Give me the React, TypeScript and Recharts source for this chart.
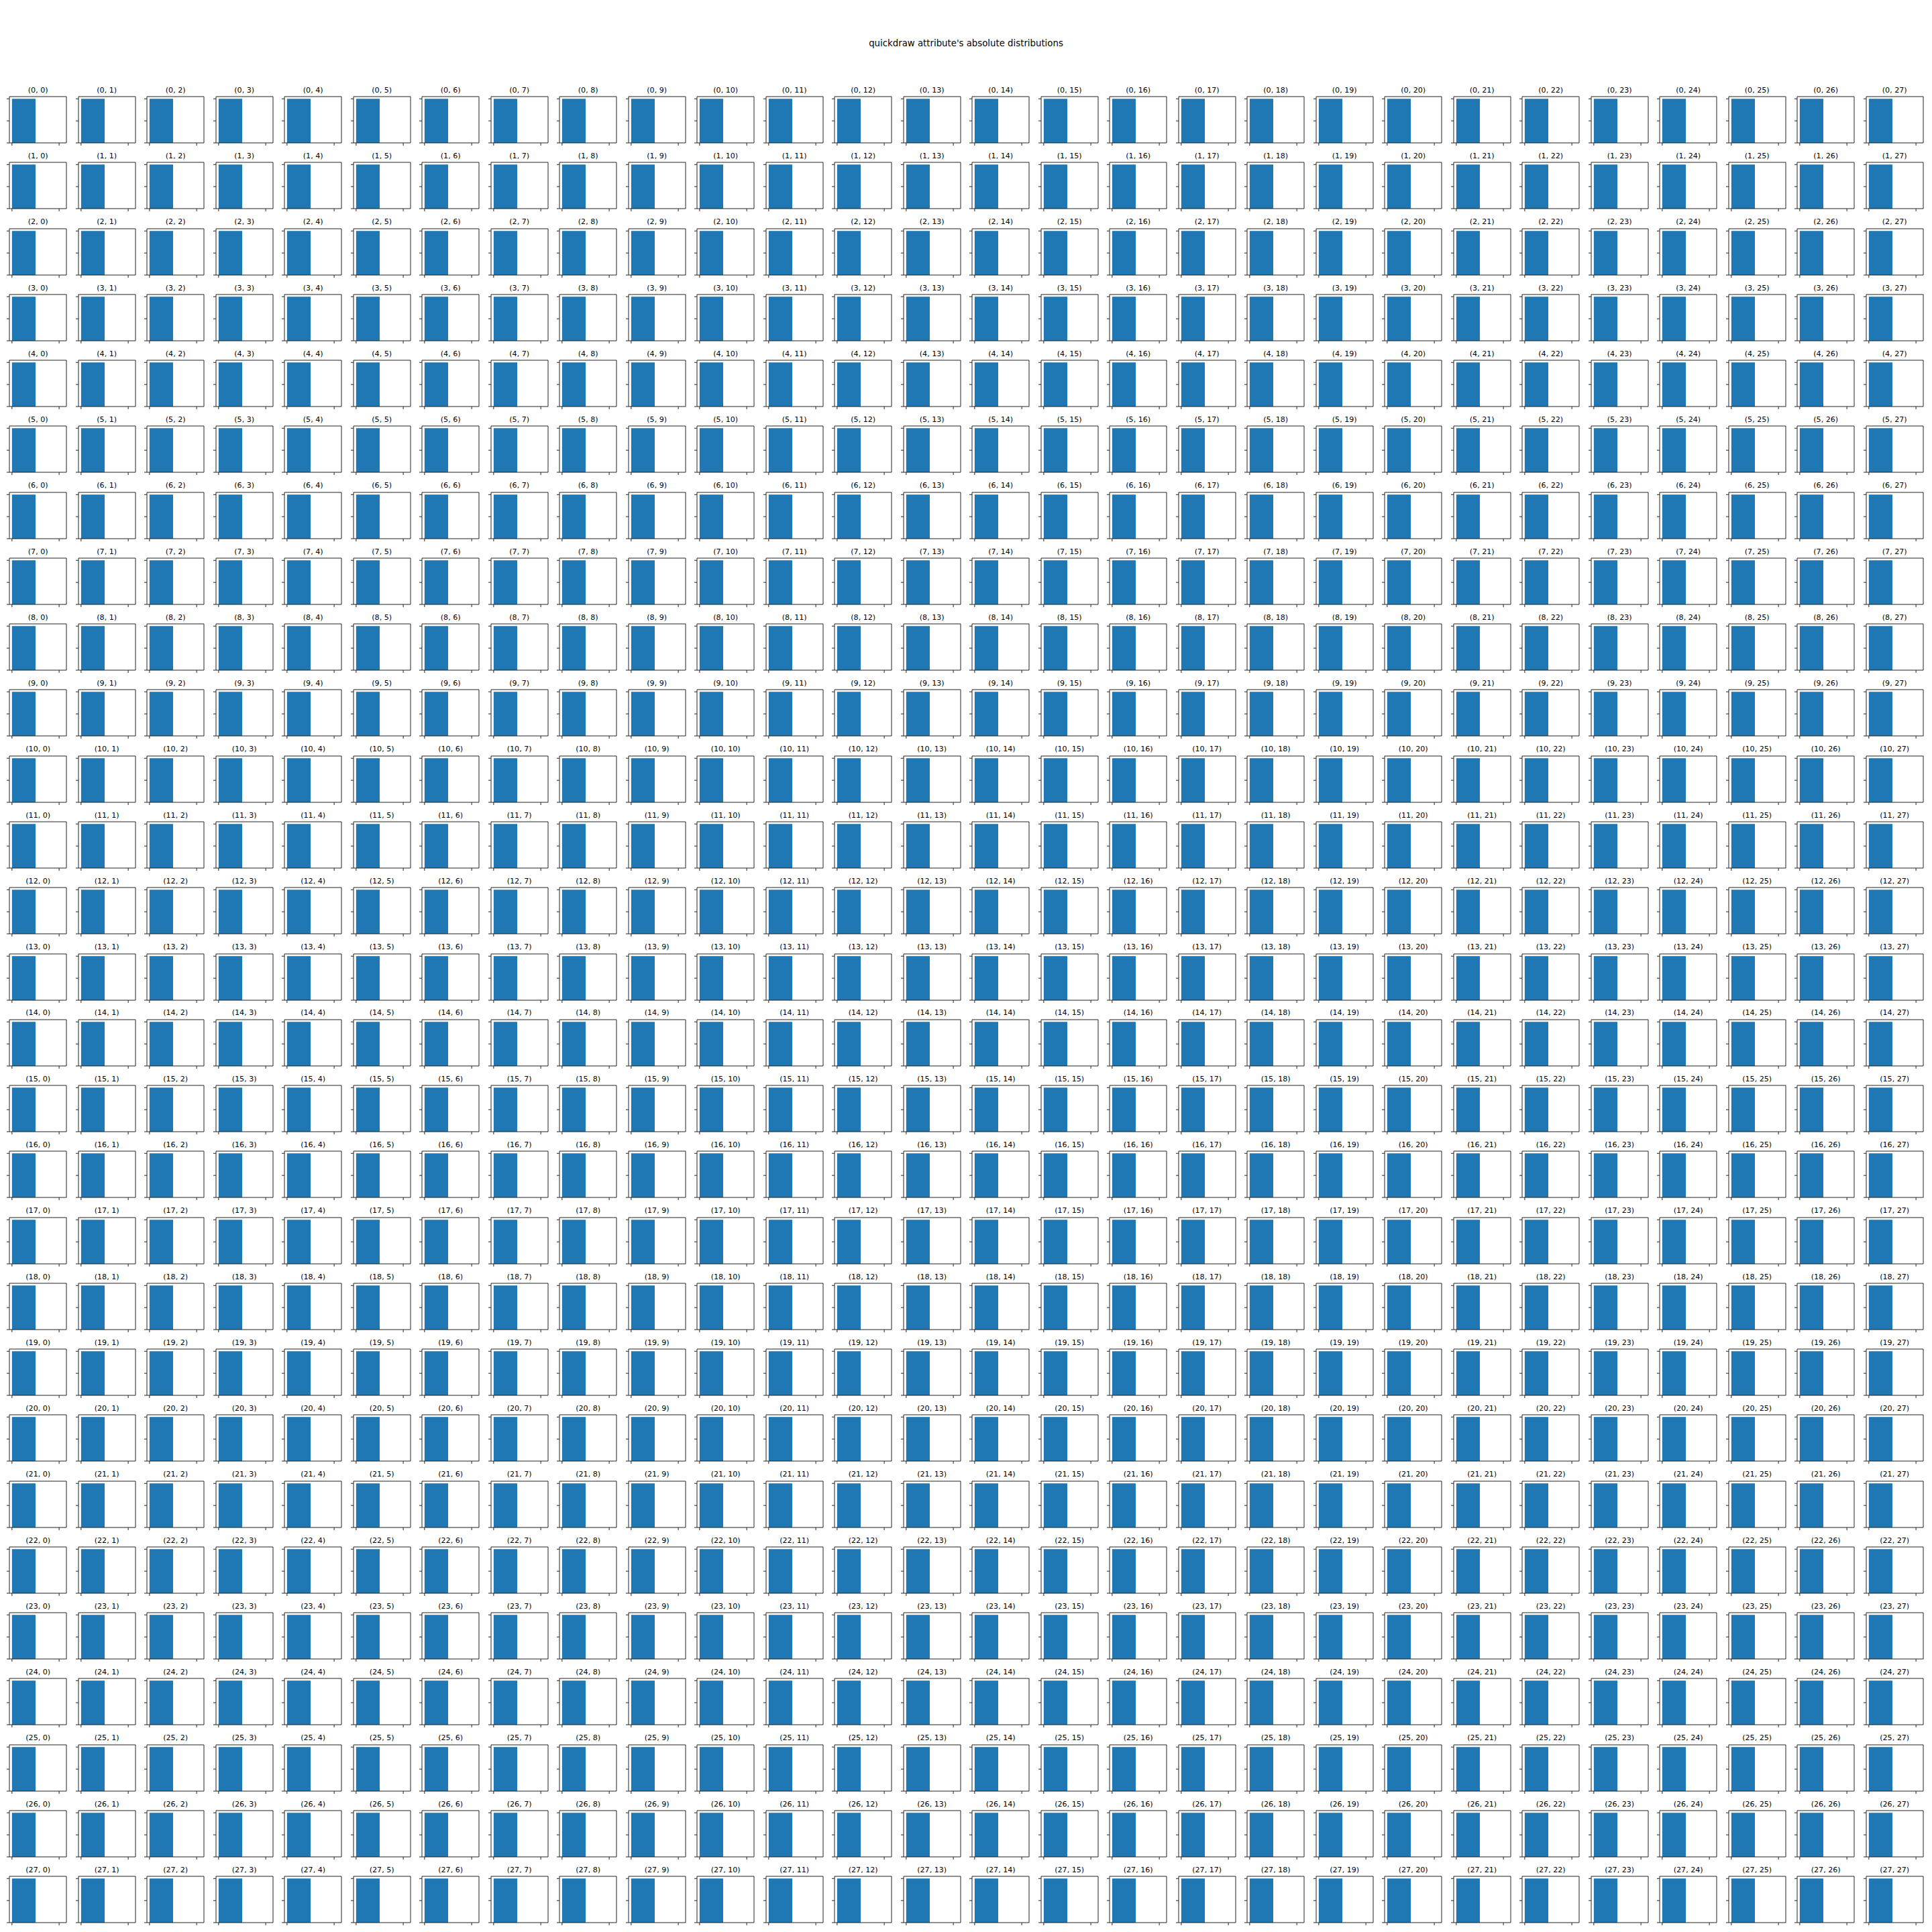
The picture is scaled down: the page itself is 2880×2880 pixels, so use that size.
import { ComposedChart, Area, XAxis, YAxis, ReferenceArea } from 'recharts'

const TITLE = "quickdraw attribute's absolute distributions"

// pixel rows and columns of the 28x28 image
const ROW_IDS = [0, 1, 2, 3, 4, 5, 6, 7, 8, 9, 10, 11, 12, 13, 14, 15, 16, 17, 18, 19, 20, 21, 22, 23, 24, 25, 26, 27]
const COL_IDS = [0, 1, 2, 3, 4, 5, 6, 7, 8, 9, 10, 11, 12, 13, 14, 15, 16, 17, 18, 19, 20, 21, 22, 23, 24, 25, 26, 27]

// every cell shows the same histogram: one full bin, then empty
const BIN_EDGES = [0, 1, 2.2]
const BIN_COUNTS = [1, 0, 0]
const X_TICKS = [0, 2]
const Y_TICKS = [0, 0.5, 1]
const X_DOMAIN = [-0.11, 2.31]
const Y_DOMAIN = [0, 1.05]

const histData = BIN_EDGES.map((edge, i) => ({ edge, count: BIN_COUNTS[i] }))

const FONT = '"DejaVu Sans", sans-serif'
const BLUE = '#1f77b4'
const INK = '#222'

// layout (px)
const BOX_LEFT = 14.2
const BOX_TOP = 144
const BOX_W = 85
const BOX_H = 69
const STEP_X = 102.5
const STEP_Y = 98.27
const PAD = 4

function Cell({ row, col }: { row: number; col: number }) {
  const left = BOX_LEFT + col * STEP_X
  const top = BOX_TOP + row * STEP_Y
  return (
    <>
      <div
        style={{
          position: 'absolute',
          left: left - 20,
          width: BOX_W + 40,
          top: top - 16.3,
          lineHeight: '13px',
          fontSize: 11.1,
          fontFamily: FONT,
          textAlign: 'center',
          color: '#000',
          whiteSpace: 'nowrap',
        }}
      >
        ({row}, {col})
      </div>
      <div style={{ position: 'absolute', left: left - 2 * PAD, top: top - PAD }}>
        <ComposedChart
          width={BOX_W + 3 * PAD}
          height={BOX_H + 3 * PAD}
          data={histData}
          margin={{ top: PAD, right: PAD, bottom: PAD, left: PAD }}
        >
          <XAxis
            dataKey="edge"
            type="number"
            domain={X_DOMAIN}
            ticks={X_TICKS}
            allowDataOverflow
            height={PAD}
            tickSize={4}
            stroke={INK}
            axisLine={false}
            tickFormatter={() => ''}
          />
          <YAxis
            type="number"
            domain={Y_DOMAIN}
            ticks={Y_TICKS}
            allowDataOverflow
            width={PAD}
            tickSize={4}
            stroke={INK}
            axisLine={false}
            tickFormatter={() => ''}
          />
          <Area
            dataKey="count"
            type="stepAfter"
            fill={BLUE}
            fillOpacity={1}
            stroke="none"
            dot={false}
            activeDot={false}
            isAnimationActive={false}
          />
          <ReferenceArea
            x1={X_DOMAIN[0]}
            x2={X_DOMAIN[1]}
            y1={Y_DOMAIN[0]}
            y2={Y_DOMAIN[1]}
            fill="none"
            fillOpacity={0}
            stroke={INK}
            strokeOpacity={1}
            strokeWidth={1}
            ifOverflow="visible"
          />
        </ComposedChart>
      </div>
    </>
  )
}

export default function App() {
  return (
    <div style={{ position: 'absolute', left: 0, top: 0, width: 2880, height: 2880, background: '#fff' }}>
      <div
        style={{
          position: 'absolute',
          left: 0,
          width: 2880,
          top: 56.7,
          textAlign: 'center',
          fontFamily: FONT,
          fontSize: 13.3,
          lineHeight: '16px',
          color: '#000',
        }}
      >
        {TITLE}
      </div>
      {ROW_IDS.map(r => COL_IDS.map(c => <Cell key={`${r}-${c}`} row={r} col={c} />))}
    </div>
  )
}
